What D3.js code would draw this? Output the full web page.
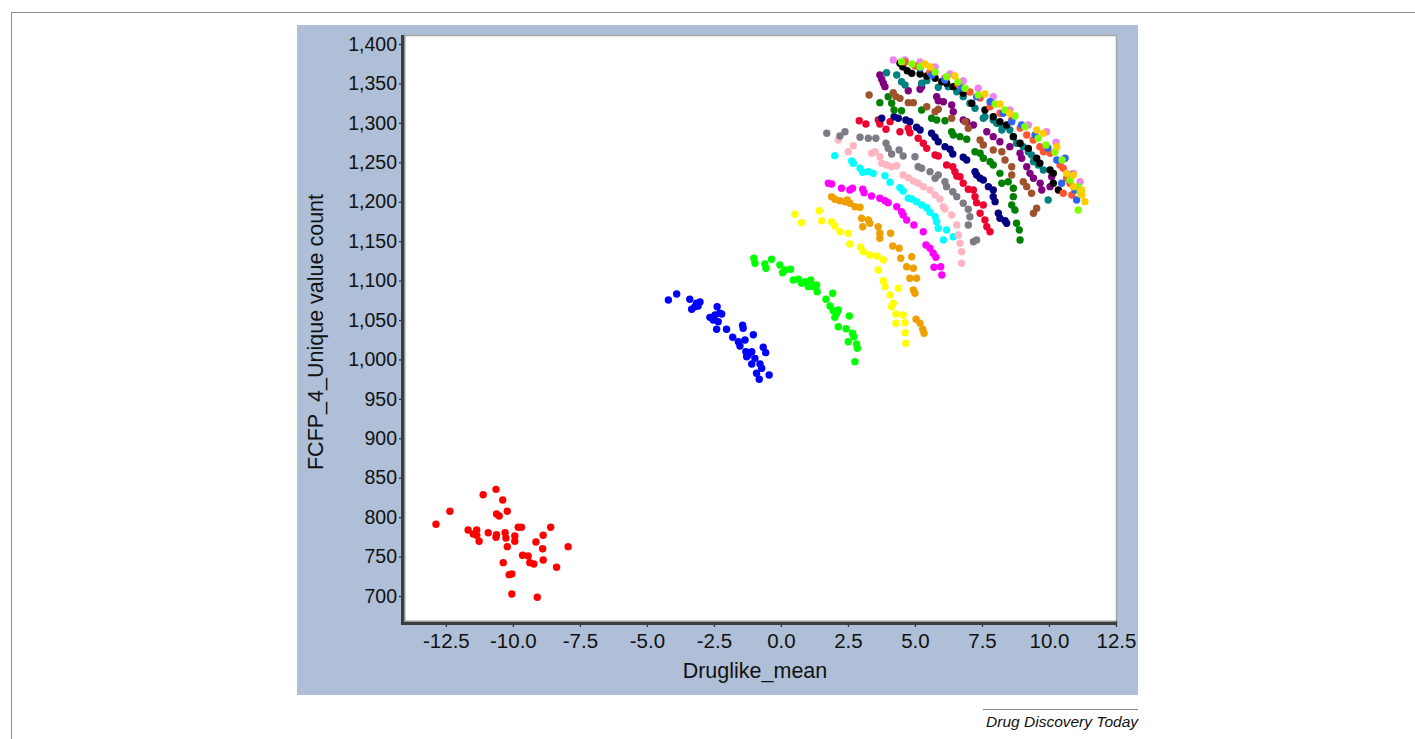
<!DOCTYPE html>
<html>
<head>
<meta charset="utf-8">
<script src="https://cdn.jsdelivr.net/npm/d3@7"></script>
<style>
  body { margin: 0; background: #fff; }
  svg text { font-family: "Liberation Sans", Arial, Helvetica, sans-serif; fill: #111; }
</style>
</head>
<body>
<svg id="chart" width="1415" height="739"></svg>
<script>
// tick labels
var xTicks = [-12.5, -10, -7.5, -5, -2.5, 0, 2.5, 5, 7.5, 10, 12.5];
var yTicks = [700, 750, 800, 850, 900, 950, 1000, 1050, 1100, 1150, 1200, 1250, 1300, 1350, 1400];

// [Druglike_mean, FCFP_4 unique value count]
var redCluster = [[-12.87,791],[-12.35,807.5],[-11.11,828.5],[-10.63,835.3],[-10.38,821.8],[-10.61,804],[-10.51,801.5],[-10.21,807.5],
  [-11.67,783.8],[-11.35,783.8],[-11.48,778.7],[-11.35,777],[-11.26,769.4],[-10.92,780.3],[-10.61,777.8],[-10.63,774.5],[-10.29,780.3],
  [-10.26,773.6],[-9.93,776.1],[-9.93,769.4],[-9.80,787.2],[-9.68,787.2],[-10.21,762.6],[-9.14,768.5],[-8.87,777],[-8.59,787.2],
  [-8.89,760],[-7.94,762.6],[-9.64,751.7],[-9.43,750.8],[-10.36,742.3],[-9.37,742.3],[-9.22,740.6],[-8.87,745.7],[-8.37,736.4],
  [-10.14,727.1],[-10.04,728],[-10.04,702.6],[-9.09,698.4]];
var blueArc = [[-4.20,1075.4],[-3.89,1083],[-3.40,1076.3],[-3.33,1063.6],[-3.15,1071.2],[-3.02,1072.9],[-3.09,1067.8],[-3.21,1066.9],
  [-2.38,1066.9],[-2.28,1058.5],[-2.65,1053.4],[-2.53,1050],[-2.34,1047.9],[-2.40,1038.2],[-2.03,1038.2],[-1.80,1028.1],[-1.43,1043.3],
  [-1.41,1039.5],[-1.59,1022.5],[-1.34,1024.7],[-1.03,1031.4],[-1.53,1017],[-1.31,1009.8],[-1.22,1005.7],[-1.09,1009.8],[-0.97,1001.4],
  [-1.28,1003.5],[-0.66,1015.4],[-0.57,1008.6],[-1.09,994.2],[-0.78,994.2],[-0.72,988.8],[-0.91,982.4],[-0.81,974.8],[-0.44,980.3],
  [-2.46,1056.4],[-2.21,1057.6]];
var limeArc = [[-1.01,1128.3],[-0.97,1121.9],[-0.60,1121],[-0.35,1127],[-0.56,1115.6],[-0.04,1119.8],[0.15,1113.4],[0.06,1110],
  [0.36,1114.3],[0.46,1100.8],[0.65,1101.6],[0.77,1096.6],[0.90,1098.6],[1.11,1100.8],[1.02,1092.3],[1.21,1092.3],[1.35,1085.9],
  [1.33,1094.4],[1.93,1083.9],[1.68,1076.3],[1.83,1067.8],[1.95,1061.8],[2.08,1058.5],[2.14,1062.7],[2.55,1055.1],[2.14,1041.5],
  [2.43,1039],[2.67,1033.2],[2.72,1028.9],[2.51,1022.5],[2.82,1019.6],[2.85,1014.1],[2.76,997.2],[2.01,1053.4]];
var yellowArc = [[0.52,1184.1],[0.77,1173.4],[1.43,1188.6],[1.52,1176],[1.89,1174.7],[2.01,1169.2],[2.20,1162],[2.51,1160],
  [2.57,1146.4],[2.97,1142.2],[3.07,1136.6],[3.32,1132.5],[3.59,1131.2],[3.82,1126.1],[3.63,1113.4],[3.82,1099.9],[3.88,1092.3],
  [4.38,1090.2],[4.07,1081.7],[4.19,1071.2],[4.13,1066.9],[4.29,1057.6],[4.56,1056.4],[4.29,1045.8],[4.63,1046.6],[4.63,1034],
  [4.66,1020.5]];
var orangeArc = [[1.89,1206.4],[2.01,1203.1],[2.20,1201.3],[2.39,1200],[2.47,1202.2],[2.57,1198],[2.76,1193.7],[2.95,1192.9],
  [3.01,1179],[3.05,1168.3],[3.26,1176.8],[3.32,1172.6],[3.63,1168.3],[3.69,1160],[3.69,1153.6],[4.09,1160],[4.17,1143.9],
  [4.41,1141],[4.47,1128.3],[4.88,1130.3],[4.69,1117.6],[4.94,1115.6],[4.81,1102.9],[5.06,1102.9],[4.94,1088.1],[5.00,1083.9],
  [5.04,1050.9],[5.19,1045.8],[5.29,1038.2],[5.34,1033.2]];
var magentaArc = [[1.77,1223.4],[1.89,1222.5],[2.26,1217],[2.57,1214.9],[2.67,1217],[3.05,1215.8],[3.10,1211.5],[3.38,1207.3],
  [3.69,1204.3],[3.88,1201.3],[4.00,1198.8],[4.32,1193.7],[4.50,1187.4],[4.56,1183.2],[4.69,1176.8],[4.96,1170.5],[5.31,1162],
  [5.41,1145.1],[5.56,1141],[5.68,1134.6],[5.78,1129.5],[5.71,1116.9],[5.96,1117.6],[6.00,1107.1]];
var cyanArc = [[2.01,1258.4],[2.64,1251.6],[2.70,1248.7],[2.95,1242.4],[3.05,1237.3],[3.26,1238.1],[3.44,1236],[3.88,1233],
  [4.07,1224.6],[4.44,1217.8],[4.56,1213.6],[4.75,1204.3],[4.88,1203.5],[5.06,1200.1],[5.25,1195.9],[5.44,1192.4],[5.56,1186.6],
  [5.75,1181],[5.81,1174.7],[5.87,1166.3],[6.18,1164.2],[6.43,1155.6],[6.06,1151.5]];
var pinkArc = [[2.14,1278.3],[2.51,1263.4],[2.70,1271],[3.38,1261.4],[3.51,1263.4],[3.69,1257.1],[3.76,1248.7],[3.94,1246.6],
  [4.13,1244.4],[4.32,1245.7],[4.56,1233.9],[4.75,1230.5],[4.94,1226.3],[5.12,1223.4],[5.31,1219.1],[5.56,1214.9],[5.75,1208.5],
  [5.93,1203.5],[6.06,1193.7],[6.12,1190.8],[6.37,1183.2],[6.56,1170.5],[6.62,1157.8],[6.68,1147.3],[6.74,1136.6],[6.74,1121.9]];
var grayArc = [[1.71,1286.8],[2.20,1283.3],[2.39,1288.8],[2.95,1281.7],[3.26,1280.4],[3.54,1280.4],[3.92,1274.1],[4.00,1267.7],
  [4.13,1260.5],[4.41,1265.6],[4.56,1258],[5.00,1257.1],[5.12,1244.4],[5.25,1242.4],[5.56,1238.1],[5.87,1233.9],[5.75,1229.7],
  [6.12,1225.4],[6.18,1219.1],[6.41,1212.7],[6.56,1206.4],[6.80,1198],[6.99,1190.4],[7.05,1181],[6.99,1170.5],[7.18,1149.3],[7.30,1151.5]];
var crimsonArc = [[2.92,1302.7],[3.17,1298.6],[3.63,1303.6],[3.69,1298.6],[3.92,1291.8],[4.07,1301.5],[4.44,1288.8],[4.75,1293.1],
  [4.81,1287.5],[5.12,1280.4],[5.31,1274.1],[5.44,1267.7],[5.75,1259.3],[5.87,1258],[6.18,1246.6],[6.41,1244.4],[6.49,1238.1],
  [6.56,1232.6],[6.68,1231.7],[6.80,1223.4],[6.99,1215.8],[7.18,1214.9],[7.24,1206.4],[7.30,1198.8],[7.55,1195.9],[7.43,1185.3],
  [7.61,1176.8],[7.68,1168.3],[7.80,1162]];
var navyArc = [[3.76,1305.8],[4.22,1307.8],[4.38,1305.8],[4.66,1303.6],[4.81,1301.5],[5.06,1294.4],[5.19,1290.9],[5.62,1286.8],
  [5.75,1281.7],[5.87,1276.1],[6.12,1269.8],[6.31,1266.5],[6.41,1260.5],[6.80,1256.3],[6.93,1252.9],[7.24,1238.1],[7.30,1233.9],
  [7.43,1229.7],[7.55,1227.6],[7.74,1219.1],[7.92,1214.9],[7.92,1206.4],[7.99,1200.1],[8.11,1185.3],[8.17,1179],[8.36,1176],[8.42,1172.6]];
var greenArc = [[3.69,1325.6],[4.00,1333.2],[4.13,1324.8],[4.22,1316.3],[4.50,1315.4],[5.25,1316.3],[5.62,1305.8],[5.81,1303.6],
  [6.12,1302.7],[6.37,1288.8],[6.43,1284.6],[6.68,1282.5],[6.93,1279.2],[7.24,1263.4],[7.43,1261.4],[7.55,1255.1],[7.80,1250.8],
  [7.92,1246.6],[8.17,1236],[8.24,1223.4],[8.48,1225.4],[8.67,1217],[8.67,1206.4],[8.61,1195.9],[8.73,1189.5],[8.79,1172.6],
  [8.89,1164.2],[8.92,1151.5]];
var purpleArc = [[3.69,1360.7],[3.76,1355.2],[3.82,1350.2],[3.88,1345.9],[4.75,1340.8],[5.19,1342.6],[5.25,1345.9],[5.81,1333.2],
  [5.87,1328.1],[6.06,1326.8],[6.37,1322.7],[6.43,1314.2],[6.80,1303.6],[6.93,1301.5],[7.18,1297.3],[7.68,1288.8],[7.92,1282.5],
  [8.17,1276.1],[8.54,1269.8],[8.92,1261.4],[8.98,1255.1],[9.17,1244.4],[9.29,1236],[9.42,1229.7],[9.67,1223.4],[9.73,1214.9],
  [10.04,1219.1],[10.10,1231.7]];
var brownArc = [[3.29,1335.3],[4.19,1338.2],[4.29,1333.2],[4.44,1331.1],[4.75,1325.6],[4.94,1325.6],[5.44,1320.5],[5.75,1314.2],
  [5.87,1317.2],[6.37,1305.8],[6.87,1301.5],[6.99,1293.1],[7.43,1278.3],[7.55,1271.9],[7.92,1265.6],[8.24,1263.4],[8.36,1252.9],
  [8.61,1244.4],[8.61,1233.9],[9.04,1225.4],[9.17,1219.1],[9.35,1210.7],[9.54,1191.7],[9.42,1185.3]];
var tealArc = [[3.94,1363.6],[4.32,1360.7],[4.50,1352.2],[4.63,1348],[5.25,1350.2],[5.44,1353.5],[5.87,1345.1],[6.24,1345.9],
  [6.56,1339.5],[6.80,1333.2],[7.05,1324.8],[7.24,1318.5],[7.61,1307.8],[7.92,1303.6],[8.11,1299.4],[8.30,1295.1],[8.54,1290.9],
  [8.67,1282.5],[8.79,1274.1],[9.04,1269.8],[9.23,1263.4],[9.35,1259.3],[9.42,1250.8],[9.60,1246.6],[9.79,1240.2],[9.97,1202.2],
  [7.55,1305.8],[8.05,1299.4],[8.24,1290.9]];
var blackArc = [[4.44,1375.5],[4.54,1371.2],[4.71,1366.1],[4.88,1362.8],[5.19,1362],[5.44,1359.4],[5.75,1356.5],[6.00,1352.2],
  [6.18,1350.2],[6.43,1345.9],[6.80,1337.5],[7.12,1324.8],[7.61,1316.3],[7.92,1307.8],[8.17,1301.5],[8.42,1297.3],[8.67,1282.5],
  [8.92,1274.1],[9.23,1267.7],[9.54,1255.1],[9.66,1248.7],[10.04,1240.2],[10.16,1236],[10.16,1223.4],[10.35,1214.9]];
var tomatoArc = [[4.63,1377.2],[5.00,1372.1],[5.56,1364.5],[6.12,1356.9],[6.60,1349.3],[7.05,1339.1],[7.43,1331.5],[7.80,1320.5],
  [8.17,1312.1],[8.61,1303.6],[8.92,1293.5],[9.17,1284.6],[9.41,1278.3],[9.66,1269.8],[9.79,1263.4],[10.04,1261.4],[10.41,1246.6],
  [10.53,1242.4],[10.66,1229.7],[10.78,1223.4],[10.85,1208.5],[10.53,1210.7]];
var royalArc = [[5.19,1369.6],[5.63,1360.7],[6.12,1354.4],[6.75,1344.2],[7.30,1333.2],[7.80,1326.8],[8.29,1312.1],[8.61,1301.5],
  [8.98,1297.3],[9.48,1284.6],[9.96,1268.1],[10.29,1252.9],[10.60,1255.1],[10.85,1233.9],[10.47,1223.4],[10.97,1214.9],[11.03,1202.2]];
var chartreuseArc = [[4.50,1377.6],[4.89,1374.6],[5.19,1371.2],[5.75,1364.5],[6.18,1358.5],[6.60,1351.8],[6.87,1343.8],[7.36,1335.3],
  [7.99,1323.9],[8.36,1316.3],[8.73,1308.7],[9.10,1295.1],[9.60,1280.4],[9.89,1271.9],[10.22,1263],[10.49,1252.9],[10.78,1227.6],
  [11.09,1219.1],[11.16,1212.3],[11.09,1189.5]];
var violetArc = [[4.19,1379.7],[4.63,1379.7],[5.19,1377.2],[5.75,1370.8],[6.31,1362],[6.80,1353.1],[7.36,1343.8],[7.92,1333.2],
  [8.54,1316.3],[9.23,1297.3],[9.91,1288.8],[10.26,1275.4],[10.41,1250.8],[10.91,1236],[11.16,1225.4]];
var goldArc = [[5.37,1374.6],[5.56,1371.2],[6.49,1359.4],[7.61,1336.6],[8.17,1323.9],[8.54,1312.1],[9.54,1290.9],[9.79,1286.8],
  [10.29,1269.8],[10.66,1236],[10.91,1233.9],[10.91,1219.1],[11.22,1214.9],[11.22,1208.5],[11.34,1200.1]];

var groups = [redCluster, blueArc, limeArc, yellowArc, orangeArc, magentaArc, cyanArc, pinkArc, grayArc, crimsonArc,
  navyArc, greenArc, purpleArc, brownArc, tealArc, blackArc, violetArc, tomatoArc, royalArc, chartreuseArc, goldArc];
var groupColors = ["#ff0000", "#0000ff", "#00ff00", "#ffff00", "#eea000", "#ff00ff", "#00ffff", "#ffb6c1", "#7f7a84", "#ee0030",
  "#000080", "#008000", "#800080", "#a0522d", "#008080", "#000000", "#ee82ee", "#ff5533", "#2f63f5", "#7fff00", "#ffcc00"];

var svg = d3.select("#chart");

// outer figure frame
svg.append("path")
  .attr("d", "M11.5,739 V12.5 H1415")
  .attr("fill", "none")
  .attr("stroke", "#8a8a8a")
  .attr("stroke-width", 1);

// steel blue panel
svg.append("rect")
  .attr("x", 297).attr("y", 25)
  .attr("width", 841).attr("height", 670)
  .attr("fill", "#aebfd7");

var plot = {left: 403, top: 35, right: 1116, bottom: 623};

var x = d3.scaleLinear().domain([-14.1, 12.5]).range([plot.left, plot.right]);
var y = d3.scaleLinear().domain([665.8, 1411.4]).range([plot.bottom, plot.top]);

svg.append("rect")
  .attr("x", plot.left).attr("y", plot.top)
  .attr("width", plot.right - plot.left).attr("height", plot.bottom - plot.top)
  .attr("fill", "#fff");

// light edge on top and right of the plot box
svg.append("path")
  .attr("d", `M${plot.left},${plot.top + 0.5} H${plot.right + 0.5} V${plot.bottom}`)
  .attr("fill", "none")
  .attr("stroke", "#a5a5a5")
  .attr("stroke-width", 1.5);

// points
groups.forEach(function(data, i) {
  svg.append("g")
    .selectAll("circle")
    .data(data)
    .enter().append("circle")
    .attr("cx", d => x(d[0]))
    .attr("cy", d => y(d[1]))
    .attr("r", 3.7)
    .attr("fill", groupColors[i]);
});

// axes
var xAxis = svg.append("g")
  .attr("transform", "translate(0," + plot.bottom + ")")
  .call(d3.axisBottom(x).tickValues(xTicks).tickFormat(d => d.toFixed(1)).tickSize(4).tickSizeOuter(0));
var yAxis = svg.append("g")
  .attr("transform", "translate(" + plot.left + ",0)")
  .call(d3.axisLeft(y).tickValues(yTicks).tickFormat(d3.format(",")).tickSize(4).tickSizeOuter(0));

[xAxis, yAxis].forEach(function(a) {
  a.select(".domain").remove();
  a.selectAll(".tick line").attr("stroke", "#333").attr("stroke-width", 1.3);
  a.selectAll(".tick text").attr("fill", "#111");
});
xAxis.selectAll(".tick text").style("font-size", "20.5px").attr("y", 10);
yAxis.selectAll(".tick text").style("font-size", "19.5px").attr("x", -6);
xAxis.selectAll(".tick line").attr("y1", -2).attr("y2", 4);

// thick axis lines with a soft shadow
svg.append("line")
  .attr("x1", plot.left + 1.5).attr("x2", plot.left + 1.5)
  .attr("y1", plot.top).attr("y2", plot.bottom + 1)
  .attr("stroke", "#9a9a9a").attr("stroke-width", 2);
svg.append("line")
  .attr("x1", plot.left).attr("x2", plot.right)
  .attr("y1", plot.bottom - 1.5).attr("y2", plot.bottom - 1.5)
  .attr("stroke", "#9a9a9a").attr("stroke-width", 2);
svg.append("line")
  .attr("x1", plot.left - 0.5).attr("x2", plot.left - 0.5)
  .attr("y1", plot.top).attr("y2", plot.bottom + 1.5)
  .attr("stroke", "#3c3c3c").attr("stroke-width", 3);
svg.append("line")
  .attr("x1", plot.left - 2).attr("x2", plot.right + 1)
  .attr("y1", plot.bottom + 0.5).attr("y2", plot.bottom + 0.5)
  .attr("stroke", "#3c3c3c").attr("stroke-width", 3);

// axis titles
svg.append("text")
  .attr("x", 755)
  .attr("y", 678)
  .attr("text-anchor", "middle")
  .style("font-size", "21.5px")
  .text("Druglike_mean");

svg.append("text")
  .attr("transform", "translate(323,332) rotate(-90)")
  .attr("text-anchor", "middle")
  .style("font-size", "21.5px")
  .text("FCFP_4_Unique value count");

// footer credit
svg.append("line")
  .attr("x1", 983).attr("x2", 1138)
  .attr("y1", 709.5).attr("y2", 709.5)
  .attr("stroke", "#888").attr("stroke-width", 1);
svg.append("text")
  .attr("x", 1138).attr("y", 727)
  .attr("text-anchor", "end")
  .style("font-size", "15.5px")
  .style("font-style", "italic")
  .text("Drug Discovery Today");
</script>
</body>
</html>
